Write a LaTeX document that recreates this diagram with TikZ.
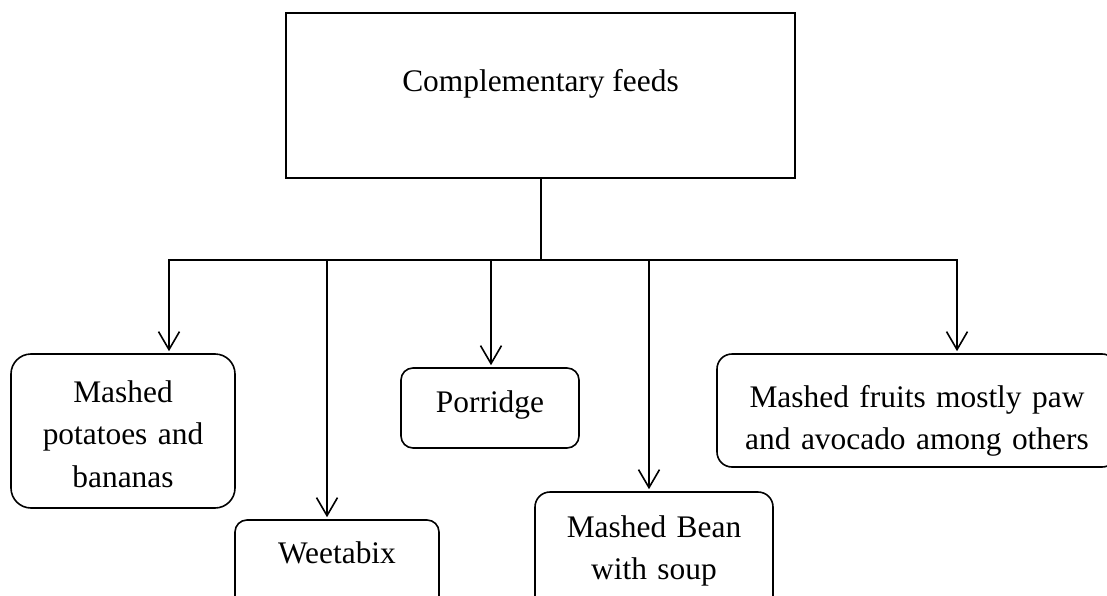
\documentclass[tikz,border=0pt]{standalone}
\usepackage{fontspec}
\setmainfont{Liberation Serif}
\usetikzlibrary{arrows.meta}
\begin{document}
\begin{tikzpicture}[x=1pt,y=-1pt,
  every node/.style={font=\fontsize{31.4}{42.5}\selectfont},
  rbox/.style={draw, line width=1.6pt, inner sep=0pt},
  lbl/.style={inner sep=0pt, align=center, anchor=base},
  conn/.style={line width=1.6pt, line cap=rect},
  arr/.style={line width=1.6pt, shorten >=2pt, -{Straight Barb[length=18pt,width=21pt,line width=1.6pt]}}
]
\useasboundingbox (0,0) rectangle (1107,596);
\clip (0,0) rectangle (1107,596);

% boxes
\node[rbox, line width=1.8pt, minimum width=509pt, minimum height=165pt] (top) at (540.5,95.5) {};
\node[rbox, rounded corners=20pt, minimum width=224pt, minimum height=154pt] (b1) at (123,431) {};
\node[rbox, rounded corners=12pt, minimum width=204pt, minimum height=95pt] (b2) at (337,567.5) {};
\node[rbox, rounded corners=12pt, minimum width=178pt, minimum height=80pt] (b3) at (490,408) {};
\node[rbox, rounded corners=15pt, minimum width=238pt, minimum height=123pt] (b4) at (654,553.5) {};
\node[rbox, rounded corners=15pt, minimum width=400pt, minimum height=113pt] (b5) at (917,410.5) {};

% texts
\node[lbl] (ttop) at (540.5,92) {Complementary feeds};
\node[lbl, text width=224pt] (t1) at (123,402) {Mashed\\potatoes and\\bananas};
\node[lbl] (t2) at (337,563) {Weetabix};
\node[lbl] (t3) at (490,412) {Porridge};
\node[lbl, text width=238pt] (t4) at (654,537) {Mashed Bean\\with soup};
\node[lbl, text width=400pt] (t5) at (917,407) {Mashed fruits mostly paw\\and avocado among others};

% connectors
\coordinate (j) at (541,260);
\coordinate (c1) at (169,260);
\coordinate (c2) at (327,260);
\coordinate (c3) at (491,260);
\coordinate (c4) at (649,260);
\coordinate (c5) at (957,260);

\draw[conn] (j |- top.south) -- (j);
\draw[conn] (c1) -- (c5);
\draw[arr] (c1) -- (c1 |- b1.north);
\draw[arr] (c2) -- (c2 |- b2.north);
\draw[arr] (c3) -- (c3 |- b3.north);
\draw[arr] (c4) -- (c4 |- b4.north);
\draw[arr] (c5) -- (c5 |- b5.north);
\end{tikzpicture}
\end{document}
